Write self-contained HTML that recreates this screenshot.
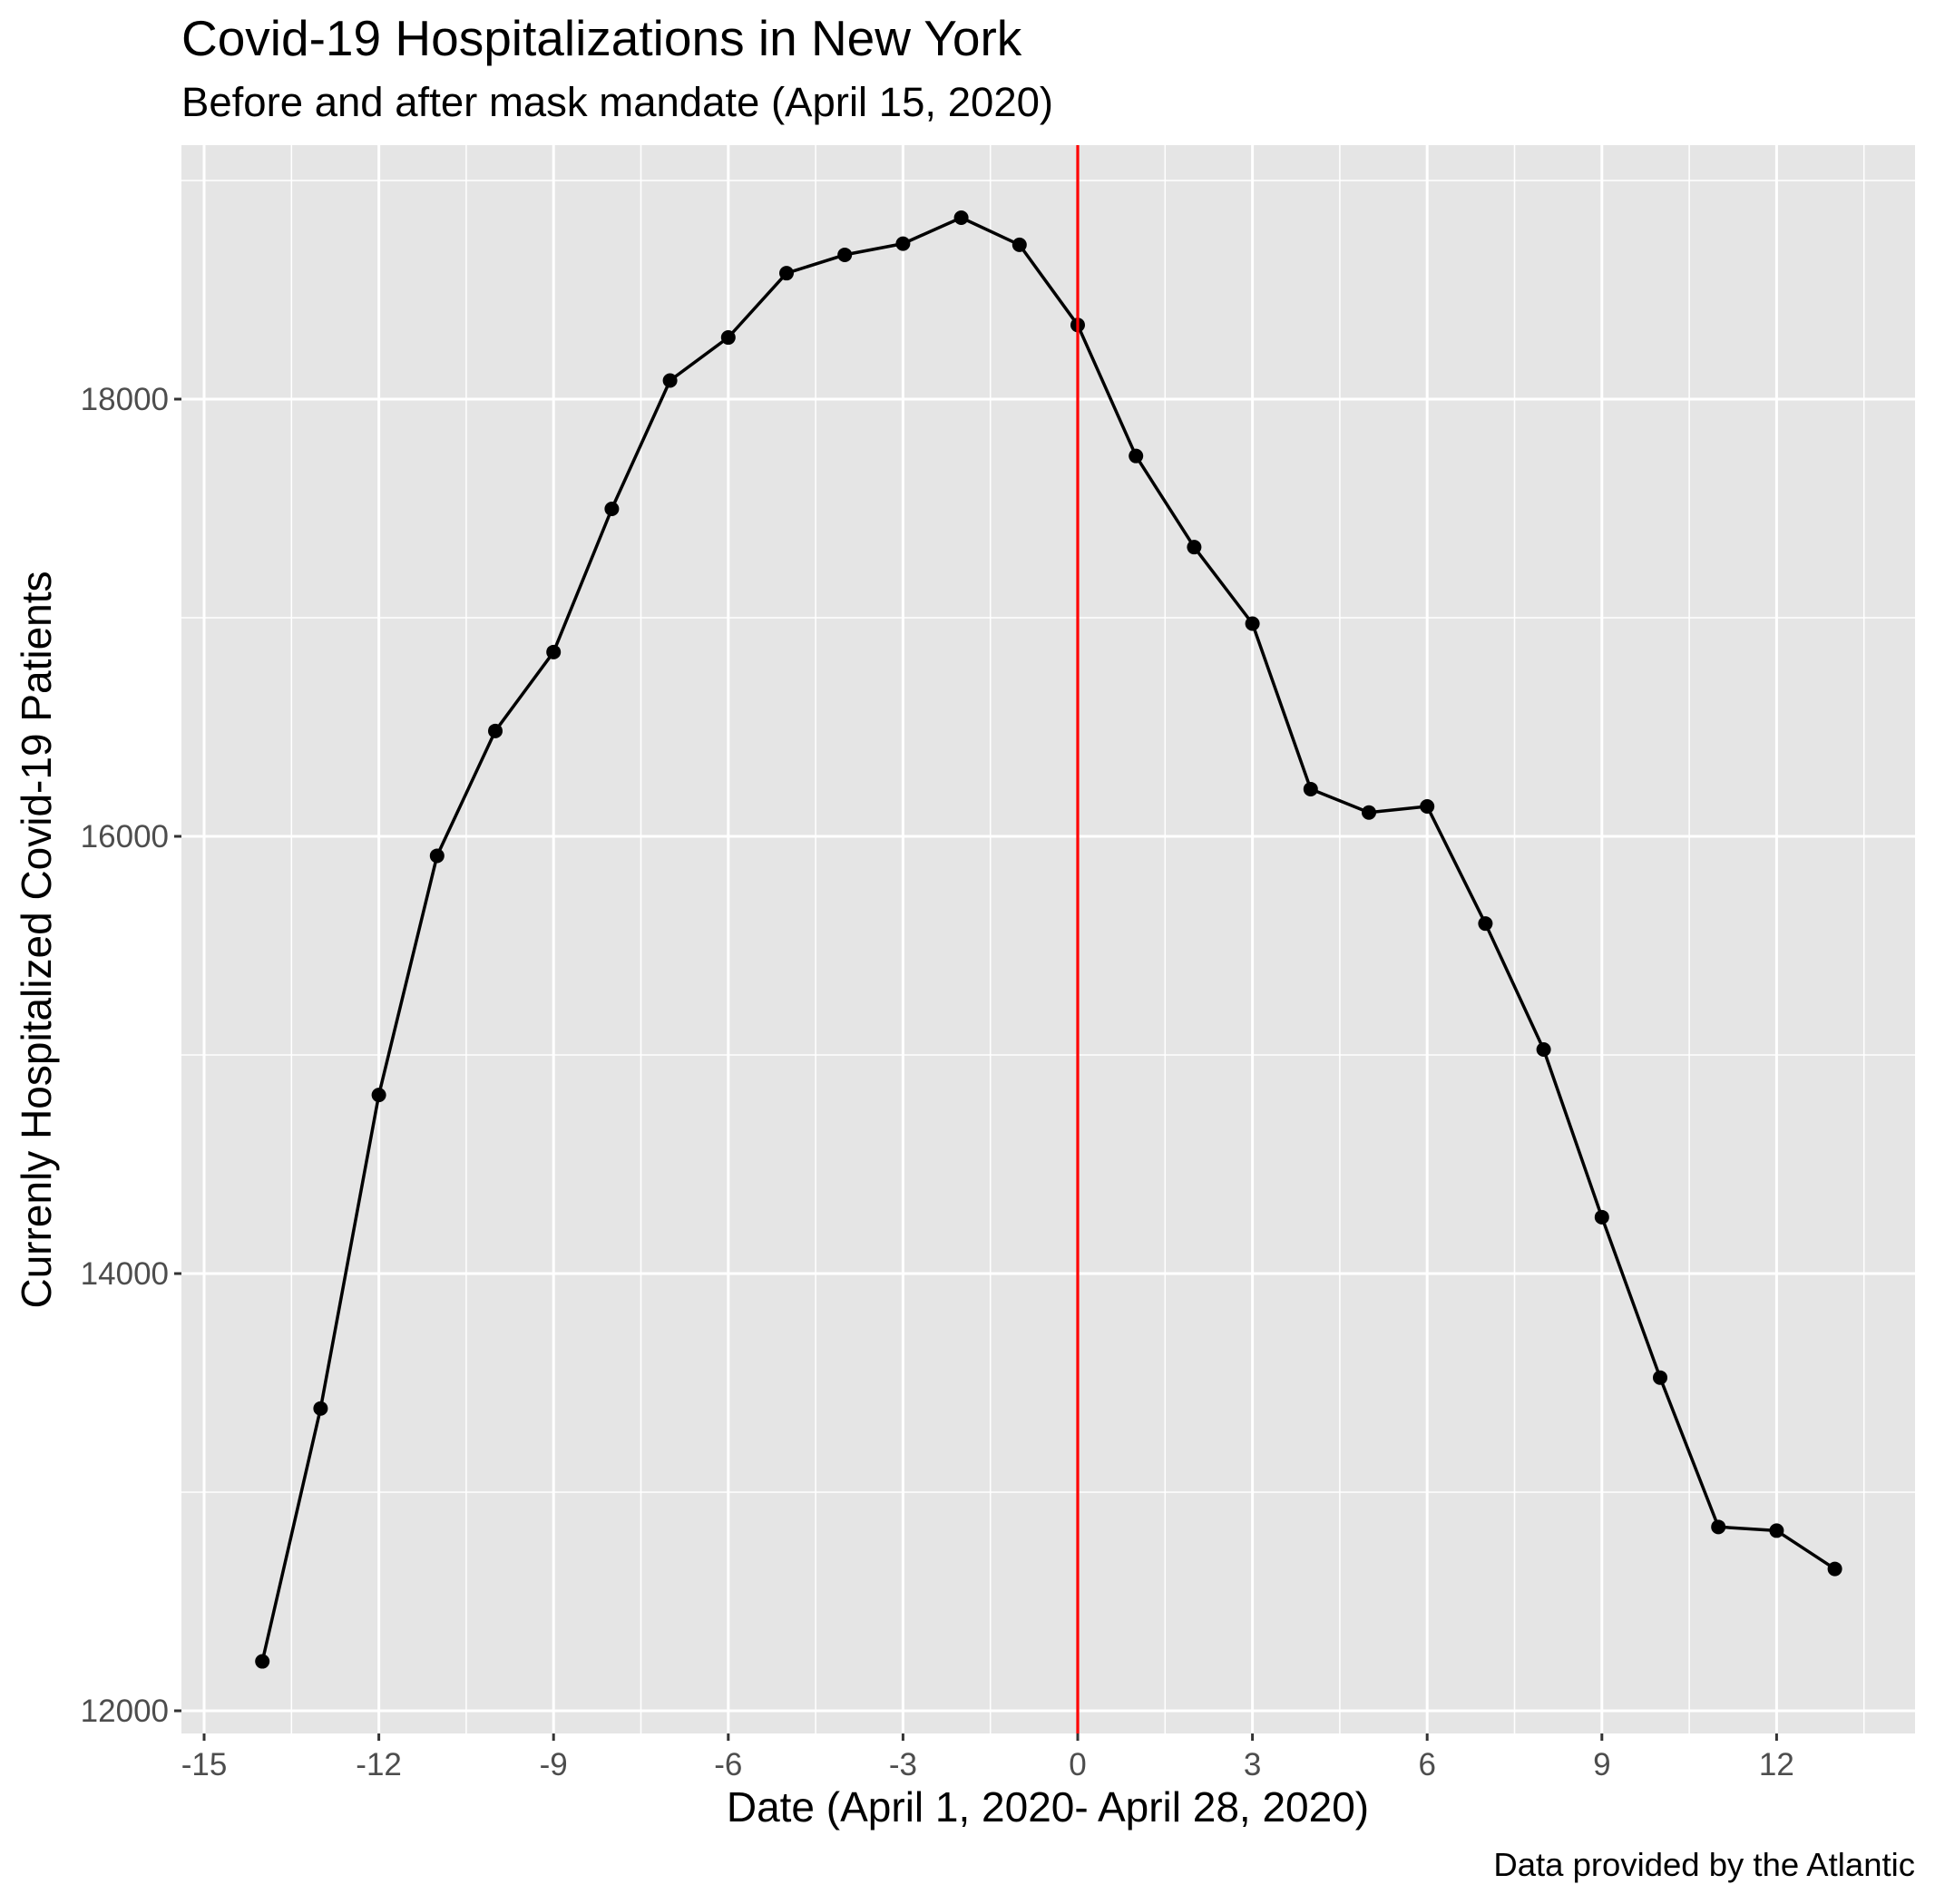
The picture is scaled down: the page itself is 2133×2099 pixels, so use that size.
<!DOCTYPE html>
<html><head><meta charset="utf-8"><style>
html,body{margin:0;padding:0;background:#fff;}
svg{display:block;font-family:"Liberation Sans",Arial,sans-serif;}
</style></head><body>
<svg id="chart" width="2133" height="2099" viewBox="0 0 2133 2099" xmlns="http://www.w3.org/2000/svg">
<rect width="2133" height="2099" fill="#fff"/>
<text x="200" y="61" font-size="55" fill="#000">Covid-19 Hospitalizations in New York</text>
<text x="200" y="128" font-size="45.5" fill="#000">Before and after mask mandate (April 15, 2020)</text>
<rect x="200" y="160" width="1911" height="1751" fill="#e5e5e5"/>
<g id="grid"></g>
<g id="marks"></g>
<g id="axes"></g>
<text x="1155" y="2008" font-size="46" text-anchor="middle" fill="#000">Date (April 1, 2020- April 28, 2020)</text>
<text transform="translate(56,1036) rotate(-90)" font-size="46" text-anchor="middle" fill="#000">Currenly Hospitalized Covid-19 Patients</text>
<text x="2111" y="2068" font-size="36.5" text-anchor="end" fill="#000">Data provided by the Atlantic</text>
</svg>
<script>
const days = [-14,-13,-12,-11,-10,-9,-8,-7,-6,-5,-4,-3,-2,-1,0,1,2,3,4,5,6,7,8,9,10,11,12,13];
const patients = [12226,13383,14817,15911,16482,16843,17498,18085,18282,18576,18660,18711,18830,18706,18339,17740,17323,16973,16216,16109,16137,15601,15025,14258,13524,12841,12824,12649];
const xTicks = [-15,-12,-9,-6,-3,0,3,6,9,12];
const xMinor = [-13.5,-10.5,-7.5,-4.5,-1.5,1.5,4.5,7.5,10.5,13.5];
const yTicks = [12000,14000,16000,18000];
const yMinor = [13000,15000,17000,19000];
const mandateDay = [0];

const NS = "http://www.w3.org/2000/svg";
const P = {l:200, r:2111, t:160, b:1911};
function xs(v){ return 1188 + v*64.2; }
function ys(v){ return 1886 - (v-12000)*0.241; }
function mk(tag, attrs, parent){
  const e = document.createElementNS(NS, tag);
  for (const k in attrs) e.setAttribute(k, attrs[k]);
  parent.appendChild(e); return e;
}
const grid = document.getElementById('grid');
const marks = document.getElementById('marks');
const axes = document.getElementById('axes');

yMinor.forEach(v=>{ const e=mk('line',{x1:P.l,x2:P.r,y1:ys(v),y2:ys(v),stroke:'#fff','stroke-width':1.5},grid);
  
   });
xMinor.forEach(v=>{ const e=mk('line',{x1:xs(v),x2:xs(v),y1:P.t,y2:P.b,stroke:'#fff','stroke-width':1.5},grid);
  
   });
yTicks.forEach(v=>{ const e=mk('line',{x1:P.l,x2:P.r,y1:ys(v),y2:ys(v),stroke:'#fff','stroke-width':3},grid);
  
  
  const t=mk('line',{x1:P.l-8,x2:P.l,y1:ys(v),y2:ys(v),stroke:'#333','stroke-width':3},axes);
  
  
  const l=mk('text',{x:P.l-14,y:ys(v)+12,'font-size':35,'text-anchor':'end',fill:'#4d4d4d'},axes);
  l.textContent=v;
  
   });
xTicks.forEach(v=>{ const e=mk('line',{x1:xs(v),x2:xs(v),y1:P.t,y2:P.b,stroke:'#fff','stroke-width':3},grid);
  
  
  const t=mk('line',{x1:xs(v),x2:xs(v),y1:P.b,y2:P.b+8,stroke:'#333','stroke-width':3},axes);
  
  
  const l=mk('text',{x:xs(v),y:1957,'font-size':35,'text-anchor':'middle',fill:'#4d4d4d'},axes);
  l.textContent=v;
  
   });

const pts = days.map((d,i)=>xs(d).toFixed(1)+','+ys(patients[i]).toFixed(1)).join(' ');
const line = mk('polyline',{points:pts,fill:'none',stroke:'#000','stroke-width':3.5,'stroke-linejoin':'round'},marks);


days.forEach((d,i)=>{ const c=mk('circle',{cx:xs(d),cy:ys(patients[i]),r:8,fill:'#000'},marks);
  
   });
mandateDay.forEach(v=>{ const r=mk('line',{x1:xs(v),x2:xs(v),y1:P.t,y2:P.b,stroke:'#ff0000','stroke-width':3.2},marks);
  
   });
</script>
</body></html>
